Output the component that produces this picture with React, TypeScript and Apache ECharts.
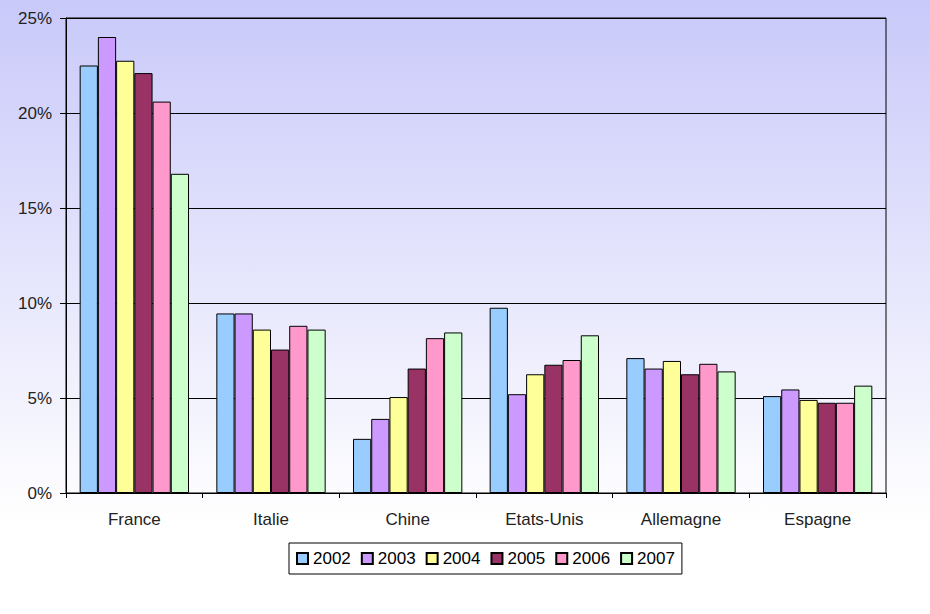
import React, { useEffect, useRef } from "react";
import * as echarts from "echarts";

const categories = ["France", "Italie", "Chine", "Etats-Unis", "Allemagne", "Espagne"];
const years = ["2002", "2003", "2004", "2005", "2006", "2007"];
const yearColors = ["#99CCFF", "#CC99FF", "#FFFF99", "#993366", "#FF99CC", "#CCFFCC"];

const v2002 = [22.5, 9.45, 2.85, 9.75, 7.1, 5.1];
const v2003 = [24.0, 9.45, 3.9, 5.2, 6.55, 5.45];
const v2004 = [22.75, 8.6, 5.05, 6.25, 6.95, 4.9];
const v2005 = [22.1, 7.55, 6.55, 6.75, 6.25, 4.75];
const v2006 = [20.6, 8.8, 8.15, 7.0, 6.8, 4.75];
const v2007 = [16.8, 8.6, 8.45, 8.3, 6.4, 5.65];
const seriesValues = [v2002, v2003, v2004, v2005, v2006, v2007];

const yTicks = [0, 5, 10, 15, 20, 25];

export default function App() {
  const ref = useRef<HTMLDivElement>(null);
  useEffect(() => {
    if (!ref.current) return;
    const chart = echarts.init(ref.current, undefined, { renderer: "svg" });
    const font = "'Liberation Sans', Arial, sans-serif";
    chart.setOption({
      animation: false,
      backgroundColor: {
        type: "linear",
        x: 0,
        y: 0,
        x2: 0,
        y2: 1,
        colorStops: [
          { offset: 0, color: "#C9C9FA" },
          { offset: 0.85, color: "#FFFFFF" },
          { offset: 1, color: "#FFFFFF" },
        ],
      },
      grid: {
        left: 66,
        right: 44,
        top: 18,
        bottom: 121,
        show: true,
        backgroundColor: "transparent",
        borderColor: "#000",
        borderWidth: 1,
      },
      legend: {
        left: 289,
        top: 543,
        orient: "horizontal",
        backgroundColor: "#FFFFFF",
        borderColor: "#000",
        borderWidth: 1,
        padding: [7, 7, 7, 7],
        itemWidth: 11,
        itemHeight: 11,
        itemGap: 10,
        textStyle: { fontFamily: font, fontSize: 17, color: "#000" },
        data: years.map((y) => ({ name: y, icon: "rect" })),
      },
      xAxis: {
        type: "category",
        data: categories,
        boundaryGap: true,
        axisLine: { lineStyle: { color: "#000", width: 1 } },
        axisTick: { show: true, length: 5, lineStyle: { color: "#000" } },
        axisLabel: { fontFamily: font, fontSize: 17, color: "#222", margin: 18 },
      },
      yAxis: {
        type: "value",
        min: yTicks[0],
        max: yTicks[yTicks.length - 1],
        interval: 5,
        axisLine: { show: true, lineStyle: { color: "#000", width: 1 } },
        axisTick: { show: true, length: 6, lineStyle: { color: "#000" } },
        splitLine: { show: true, lineStyle: { color: "#000", width: 1 } },
        axisLabel: {
          fontFamily: font,
          fontSize: 17,
          color: "#222",
          margin: 14,
          formatter: (v: number) => v + "%",
        },
      },
      series: years.map((y, i) => ({
        name: y,
        type: "bar",
        data: seriesValues[i],
        barGap: "0%",
        barCategoryGap: "20%",
        itemStyle: { color: yearColors[i], borderColor: "#000", borderWidth: 1 },
      })),
    });
    return () => chart.dispose();
  }, []);
  return (
    <div
      ref={ref}
      style={{ position: "fixed", left: 0, top: 0, width: 930, height: 614 }}
    />
  );
}
